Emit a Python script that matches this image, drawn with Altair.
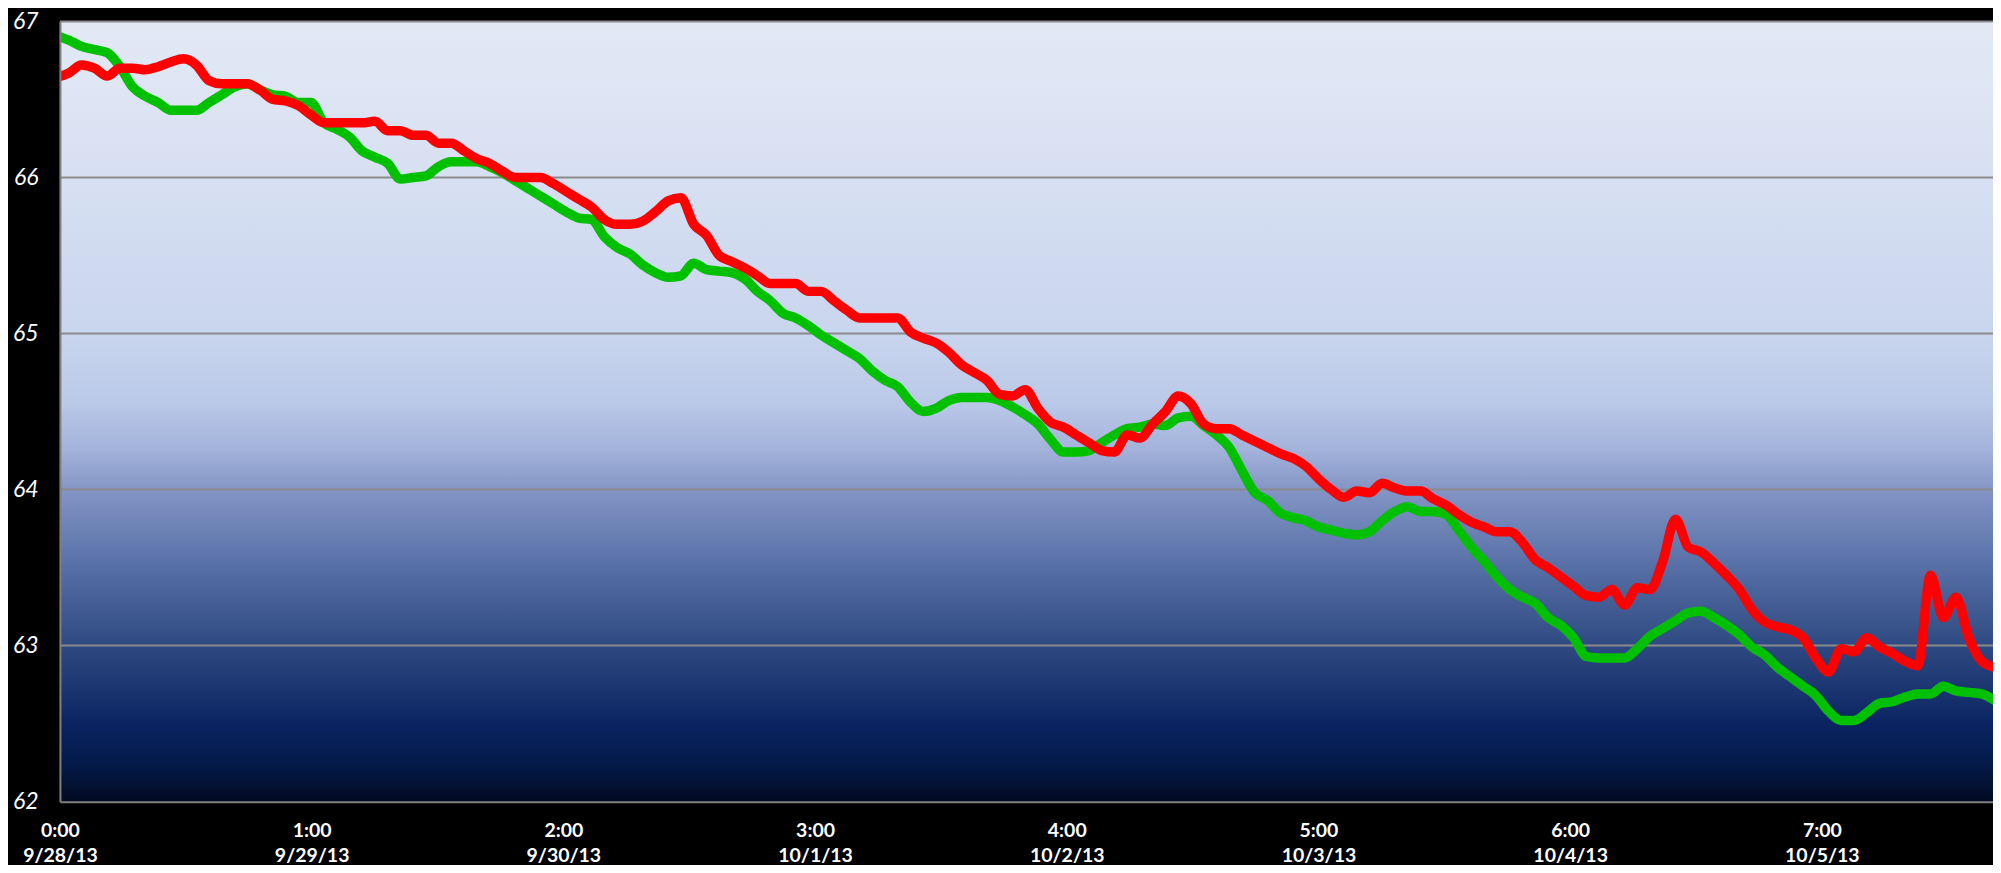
import json
import altair as alt
import pandas as pd

# ---- data ----
HOURS = ["0:00", "1:00", "2:00", "3:00", "4:00", "5:00", "6:00", "7:00"]
DATES = ["9/28/13", "9/29/13", "9/30/13", "10/1/13", "10/2/13", "10/3/13", "10/4/13", "10/5/13"]
Y_TICKS = [62, 63, 64, 65, 66, 67]

SAMPLE_START_DAYS = -0.0152   # time of first sample (days from 0:00 9/28/13)
SAMPLE_STEP_DAYS = 0.05066    # sampling interval (days)

GREEN = [
    66.91, 66.88, 66.84, 66.82, 66.80, 66.71, 66.58, 66.52, 66.48, 66.43,
    66.43, 66.43, 66.48, 66.53, 66.58, 66.60, 66.56, 66.53, 66.52, 66.48,
    66.48, 66.35, 66.31, 66.26, 66.17, 66.13, 66.09, 65.99, 66.00, 66.01,
    66.07, 66.10, 66.10, 66.10, 66.07, 66.03, 65.98, 65.93, 65.88, 65.83,
    65.78, 65.74, 65.73, 65.62, 65.55, 65.51, 65.44, 65.39, 65.36, 65.37,
    65.45, 65.41, 65.40, 65.39, 65.35, 65.27, 65.21, 65.13, 65.10, 65.05,
    64.99, 64.94, 64.89, 64.84, 64.76, 64.70, 64.66, 64.56, 64.50, 64.52,
    64.57, 64.59, 64.59, 64.59, 64.57, 64.53, 64.48, 64.42, 64.32, 64.24,
    64.24, 64.25, 64.30, 64.35, 64.39, 64.40, 64.42, 64.41, 64.46, 64.47,
    64.41, 64.35, 64.27, 64.12, 63.98, 63.93, 63.85, 63.82, 63.80, 63.76,
    63.74, 63.72, 63.71, 63.73, 63.80, 63.86, 63.89, 63.86, 63.86, 63.84,
    63.74, 63.63, 63.54, 63.44, 63.36, 63.31, 63.27, 63.18, 63.13, 63.05,
    62.93, 62.92, 62.92, 62.92, 62.98, 63.06, 63.11, 63.16, 63.21, 63.22,
    63.18, 63.13, 63.07, 62.99, 62.94, 62.86, 62.80, 62.74, 62.68, 62.58,
    62.52, 62.52, 62.57, 62.63, 62.64, 62.67, 62.69, 62.69, 62.74, 62.71,
    62.70, 62.69, 62.65,
]

RED = [
    66.64, 66.67, 66.72, 66.70, 66.65, 66.70, 66.70, 66.69, 66.71, 66.74,
    66.76, 66.72, 66.62, 66.60, 66.60, 66.60, 66.56, 66.50, 66.49, 66.46,
    66.40, 66.35, 66.35, 66.35, 66.35, 66.36, 66.30, 66.30, 66.27, 66.27,
    66.22, 66.22, 66.17, 66.12, 66.09, 66.04, 66.00, 66.00, 66.00, 65.96,
    65.91, 65.86, 65.81, 65.73, 65.70, 65.70, 65.72, 65.78, 65.85, 65.87,
    65.70, 65.63, 65.50, 65.46, 65.42, 65.37, 65.32, 65.32, 65.32, 65.27,
    65.27, 65.21, 65.15, 65.10, 65.10, 65.10, 65.10, 65.01, 64.97, 64.94,
    64.88, 64.80, 64.75, 64.70, 64.61, 64.60, 64.64, 64.52, 64.43, 64.40,
    64.35, 64.30, 64.25, 64.24, 64.35, 64.33, 64.42, 64.50, 64.60, 64.55,
    64.42, 64.39, 64.39, 64.35, 64.31, 64.27, 64.23, 64.20, 64.15, 64.07,
    64.00, 63.95, 63.99, 63.98, 64.04, 64.01, 63.99, 63.99, 63.94, 63.90,
    63.84, 63.79, 63.76, 63.73, 63.73, 63.66, 63.55, 63.50, 63.44, 63.38,
    63.32, 63.31, 63.36, 63.26, 63.37, 63.36, 63.54, 63.81, 63.63, 63.60,
    63.53, 63.45, 63.36, 63.23, 63.15, 63.12, 63.10, 63.05, 62.92, 62.83,
    62.98, 62.96, 63.05, 62.99, 62.95, 62.90, 62.87, 63.45, 63.18, 63.31,
    63.05, 62.90, 62.86,
]

rows = []
for name, vals in (("green", GREEN), ("red", RED)):
    for i, v in enumerate(vals):
        rows.append({"t": SAMPLE_START_DAYS + i * SAMPLE_STEP_DAYS, "v": v, "s": name})
df = pd.DataFrame(rows)

W, H = 1935, 781
X_DOMAIN = [0, 7.68]
Y_DOMAIN = [62, 67]

label_expr = "[" + json.dumps(HOURS) + "[round(datum.value)], " + json.dumps(DATES) + "[round(datum.value)]]"

x_enc = alt.X(
    "t:Q",
    scale=alt.Scale(domain=X_DOMAIN, nice=False, zero=False),
    axis=alt.Axis(
        values=list(range(len(HOURS))), labelExpr=label_expr, title=None, grid=False,
        ticks=False, domainColor="#808080", domainWidth=2, labelColor="white",
        labelFont="Lato", labelFontWeight="bold", labelFontSize=19.5, labelLineHeight=25,
        labelPadding=20, labelAlign="center", labelFlush=False, zindex=1,
    ),
)
y_enc = alt.Y(
    "v:Q",
    scale=alt.Scale(domain=Y_DOMAIN, nice=False, zero=False),
    axis=alt.Axis(
        values=Y_TICKS, title=None, grid=False, ticks=False, domainColor="#808080",
        domainWidth=2, labelColor="white", labelFont="Lato", labelFontStyle="italic",
        labelFontSize=23, labelPadding=22, zindex=1, format="d",
    ),
)

gradient = alt.Gradient(
    gradient="linear",
    x1=0, x2=0, y1=0, y2=1,
    stops=[
        alt.GradientStop(color="#e3e9f5", offset=0.0),
        alt.GradientStop(color="#d7e0f2", offset=0.2),
        alt.GradientStop(color="#c9d5ee", offset=0.4),
        alt.GradientStop(color="#bac9e8", offset=0.49),
        alt.GradientStop(color="#a2b2da", offset=0.55),
        alt.GradientStop(color="#8395c5", offset=0.6),
        alt.GradientStop(color="#566fa5", offset=0.7),
        alt.GradientStop(color="#2f4a82", offset=0.8),
        alt.GradientStop(color="#0a2462", offset=0.9),
        alt.GradientStop(color="#041a4a", offset=0.95),
        alt.GradientStop(color="#020a22", offset=1.0),
    ],
)

bg = alt.Chart(alt.Data(values=[{}])).mark_rect(color=gradient).encode(
    x=alt.value(0), x2=alt.value(W), y=alt.value(0), y2=alt.value(H)
)

grid = alt.Chart(pd.DataFrame({"g": Y_TICKS[1:]})).mark_rule(
    color="#8a8a8a", strokeWidth=2
).encode(y=alt.Y("g:Q", scale=alt.Scale(domain=Y_DOMAIN, nice=False, zero=False)))

green = alt.Chart(df[df.s == "green"]).mark_line(
    color="#00c000", strokeWidth=9.5, interpolate="monotone", clip=True,
    strokeCap="round", strokeJoin="round",
).encode(x=x_enc, y=y_enc)

red = alt.Chart(df[df.s == "red"]).mark_line(
    color="#ff0000", strokeWidth=9.5, interpolate="monotone", clip=True,
    strokeCap="round", strokeJoin="round",
).encode(x=x_enc, y=y_enc)

chart = alt.layer(bg, grid, green, red).properties(
    width=W, height=H,
    autosize=alt.AutoSizeParams(type="none"),
    padding={"left": 52, "top": 13, "right": 0, "bottom": 63},
    background="black",
).configure_view(stroke=None)

chart.save("out.html", embed_options={"renderer": "svg", "actions": False})
